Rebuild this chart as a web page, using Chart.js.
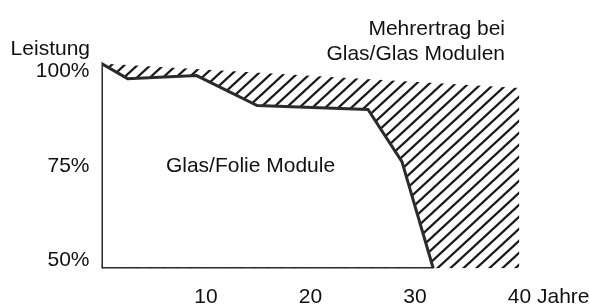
<!DOCTYPE html>
<html lang="de">
<head>
<meta charset="UTF-8">
<title>Leistung Glas/Folie und Glas/Glas Module</title>
<script src="https://cdn.jsdelivr.net/npm/chart.js"></script>
<style>
  html, body { margin: 0; padding: 0; background: #fff; }
</style>
</head>
<body>
<canvas id="chart" width="590" height="307"></canvas>
<script>
// Glas/Folie Module: Jahre und Leistung (%)
const jahreFolie = [0, 0, 2.5, 9.1, 14.9, 25.5, 28.75, 31.75];
const leistungFolie = [50, 104.1, 100.1, 100.9, 93.0, 91.95, 78.2, 50];
// Grundlinie der Glas/Folie Fläche
const jahreBasis = [0, 31.75];
const leistungBasis = [50, 50];
// obere Kante der schraffierten Fläche (Glas/Glas)
const jahreGlas = [0, 40];
const leistungGlas = [104.1, 97.6];

const xTicks = [10, 20, 30, 40];
const yTicks = [50, 75, 100];

const FONT = '"Liberation Sans", Arial, sans-serif';
const INK = '#111';
const LINE = '#2b2b2b';

function toPoints(xs, ys) {
    return xs.map((x, i) => ({ x: x, y: ys[i] }));
}

// Schraffur-Muster
function makeHatch() {
    const w = 13, h = 12;
    const c = document.createElement('canvas');
    c.width = w;
    c.height = h;
    const g = c.getContext('2d');
    g.strokeStyle = '#1a1a1a';
    g.lineWidth = 2.3;
    [-1, 0, 1].forEach(k => {
        g.beginPath();
        g.moveTo(-w, 2 * h + k * h);
        g.lineTo(2 * w, -h + k * h);
        g.stroke();
    });
    return g.createPattern(c, 'repeat');
}

// Beschriftungen im Diagramm
const labelsPlugin = {
    id: 'labels',
    afterDraw(chart) {
        const ctx = chart.ctx;
        const xs = chart.scales.x;
        ctx.save();
        ctx.fillStyle = INK;
        ctx.font = '21px ' + FONT;

        ctx.textBaseline = 'alphabetic';
        ctx.textAlign = 'right';
        ctx.fillText('Leistung', 90, 55);
        ctx.fillText('Mehrertrag bei', 505, 34.5);
        ctx.fillText('Glas/Glas Modulen', 505, 60);

        ctx.textAlign = 'center';
        ctx.fillText('Glas/Folie Module', 250.5, 171.5);

        // "Jahre" hinter der letzten Tick-Beschriftung
        const px = xs.getPixelForValue(40);
        const off = ctx.measureText('40').width / 2 + ctx.measureText(' ').width;
        ctx.textAlign = 'left';
        ctx.textBaseline = 'middle';
        ctx.fillText('Jahre', px + off, xs.top + 16 + 12.6);
        ctx.restore();
    }
};

new Chart(document.getElementById('chart'), {
    type: 'scatter',
    data: {
        datasets: [
            {
                label: 'Grundlinie',
                data: toPoints(jahreBasis, leistungBasis),
                showLine: true,
                borderColor: LINE,
                borderWidth: 3,
                pointRadius: 0,
                fill: false
            },
            {
                label: 'Glas/Folie Module',
                data: toPoints(jahreFolie, leistungFolie),
                showLine: true,
                borderColor: LINE,
                borderWidth: 3,
                borderJoinStyle: 'miter',
                pointRadius: 0,
                fill: 'start',
                backgroundColor: '#fff'
            },
            {
                label: 'Mehrertrag bei Glas/Glas Modulen',
                data: toPoints(jahreGlas, leistungGlas),
                showLine: true,
                borderWidth: 0,
                borderColor: 'rgba(0,0,0,0)',
                pointRadius: 0,
                fill: 'start',
                backgroundColor: makeHatch()
            }
        ]
    },
    options: {
        responsive: false,
        animation: false,
        layout: { padding: { top: 48.7, right: 70.5, left: 0, bottom: 0 } },
        plugins: {
            legend: { display: false },
            tooltip: { enabled: false }
        },
        scales: {
            x: {
                type: 'linear',
                min: 0,
                max: 40,
                grid: { display: false, drawTicks: false },
                border: { display: false },
                afterBuildTicks: s => { s.ticks = xTicks.map(v => ({ value: v })); },
                afterFit: s => { s.height = 38.5; },
                ticks: {
                    padding: 16,
                    color: INK,
                    font: { family: FONT, size: 21 }
                }
            },
            y: {
                type: 'linear',
                min: 50,
                max: 108,
                grid: { display: false, drawTicks: false },
                border: { display: false },
                afterBuildTicks: s => { s.ticks = yTicks.map(v => ({ value: v })); },
                afterFit: s => { s.width = 101.5; },
                ticks: {
                    padding: 12,
                    labelOffset: -8,
                    color: INK,
                    font: { family: FONT, size: 21 },
                    callback: v => v + '%'
                }
            }
        }
    },
    plugins: [labelsPlugin]
});
</script>
</body>
</html>
